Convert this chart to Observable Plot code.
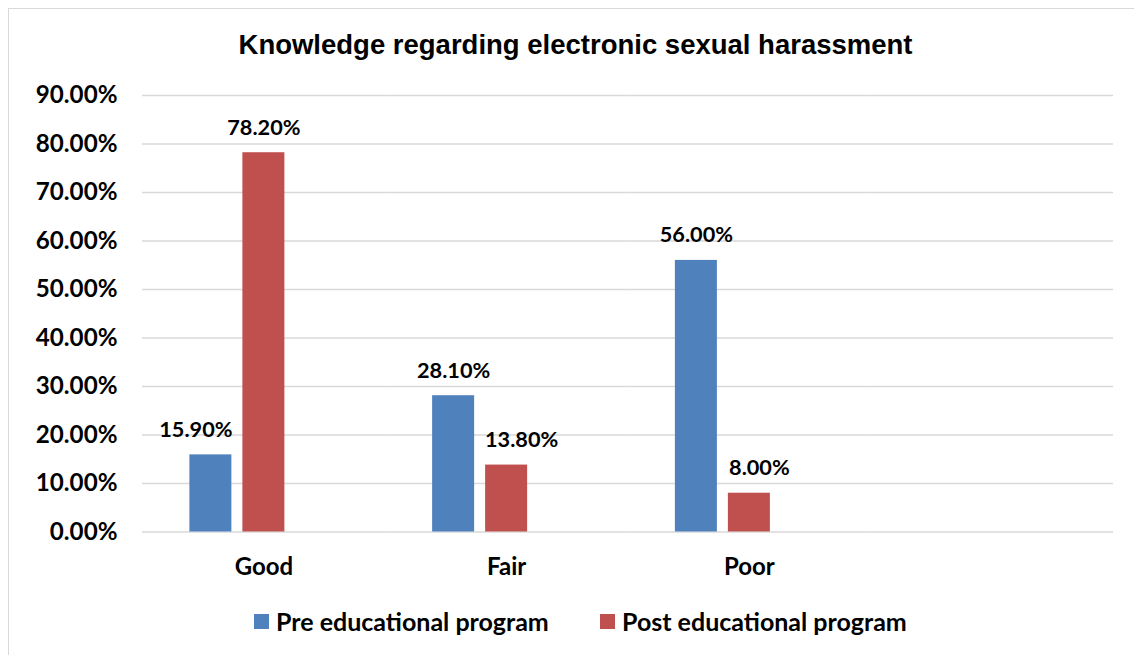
<!DOCTYPE html>
<html>
<head>
<meta charset="utf-8">
<script src="https://cdn.jsdelivr.net/npm/d3@7"></script>
<script src="https://cdn.jsdelivr.net/npm/@observablehq/plot@0.6"></script>
<style>
  html, body { margin: 0; padding: 0; background: #fff; }
  body { width: 1134px; height: 655px; position: relative; overflow: hidden; font-family: Lato, "Open Sans", sans-serif; }
  #frame { position: absolute; left: 8px; top: 8px; width: 1200px; height: 700px; border-left: 1.5px solid #d9d9d9; border-top: 1.5px solid #d9d9d9; }
  #title { position: absolute; left: 0; width: 1151px; top: 29px; text-align: center; font-family: "Liberation Sans", Arial, sans-serif; font-weight: bold; font-size: 27.5px; color: #000; }
  #chart { position: absolute; left: 0; top: 70px; }
  #legend { position: absolute; top: 606px; left: 0; width: 1134px; font-weight: bold; font-size: 25px; color: #000; }
  .item { position: absolute; display: flex; align-items: center; white-space: nowrap; }
  .sw { width: 15px; height: 15px; margin-right: 7px; }
</style>
</head>
<body>
<div id="frame"></div>
<div id="title">Knowledge regarding electronic sexual harassment</div>
<div id="chart"></div>
<div id="legend"></div>
<script>
const categories = ["Good", "Fair", "Poor"];
const emptySlot = " ";
const seriesNames = ["Pre educational program", "Post educational program"];
const blankSeries = "blank";
const preValues = [15.9, 28.1, 56.0];
const postValues = [78.2, 13.8, 8.0];
const yTicks = [0, 10, 20, 30, 40, 50, 60, 70, 80, 90];
const colors = ["#4F81BD", "#C0504D"];
// horizontal nudges of data labels (pixels), as the original places them
const preLabelNudge = [-15, 0, 0];
const postLabelNudge = [0, 15, 10];

const data = [];
categories.forEach((c, i) => {
  data.push({category: c, series: seriesNames[0], value: preValues[i], nudge: preLabelNudge[i]});
  data.push({category: c, series: seriesNames[1], value: postValues[i], nudge: postLabelNudge[i]});
});
// empty fourth category slot (no values), as in the original chart
const barData = [...data, {category: emptySlot, series: blankSeries, value: null}];

const fmt = d => d.toFixed(2) + "%";

const chart = Plot.plot({
  width: 1134,
  height: 530,
  marginLeft: 142,
  marginRight: 21,
  marginTop: 25,
  marginBottom: 68.5,
  style: {fontFamily: "Lato, 'Open Sans', sans-serif", background: "transparent"},
  fx: {domain: [...categories, emptySlot], padding: 0, round: false, label: null, axis: null},
  x: {domain: [...seriesNames, blankSeries], paddingInner: 0.2075, paddingOuter: 0.894, round: false, axis: null},
  y: {domain: [0, 90], axis: null},
  color: {domain: [...seriesNames, blankSeries], range: [...colors, "none"]},
  marks: [
    Plot.ruleY(yTicks.filter(d => d > 0), {stroke: "#d9d9d9", strokeWidth: 1.5}),
    Plot.ruleY([0], {stroke: "#d9d9d9", strokeWidth: 1.5}),
    Plot.barY(barData, {fx: "category", x: "series", y: "value", fill: "series"}),
    ...data.map(d => Plot.text([d], {fx: "category", x: "series", y: "value", text: e => fmt(e.value), dx: d.nudge, dy: -25, lineAnchor: "middle", fontSize: 21.7, fontWeight: "bold", fill: "#000"})),
    Plot.axisY({ticks: yTicks, tickFormat: fmt, tickSize: 0, tickPadding: 25, fontSize: 24.2, fontWeight: "bold", color: "#000", label: null}),
    Plot.axisFx({anchor: "bottom", tickSize: 0, tickPadding: 26, fontSize: 24, fontWeight: "bold", color: "#000", label: null})
  ]
});
document.getElementById("chart").appendChild(chart);

const legend = document.getElementById("legend");
const legendX = [254, 600];
seriesNames.forEach((s, i) => {
  const item = document.createElement("div");
  item.className = "item";
  item.style.left = legendX[i] + "px";
  const sw = document.createElement("div");
  sw.className = "sw";
  sw.style.background = colors[i];
  const t = document.createElement("span");
  t.textContent = s;
  item.appendChild(sw);
  item.appendChild(t);
  legend.appendChild(item);
});
</script>
</body>
</html>
